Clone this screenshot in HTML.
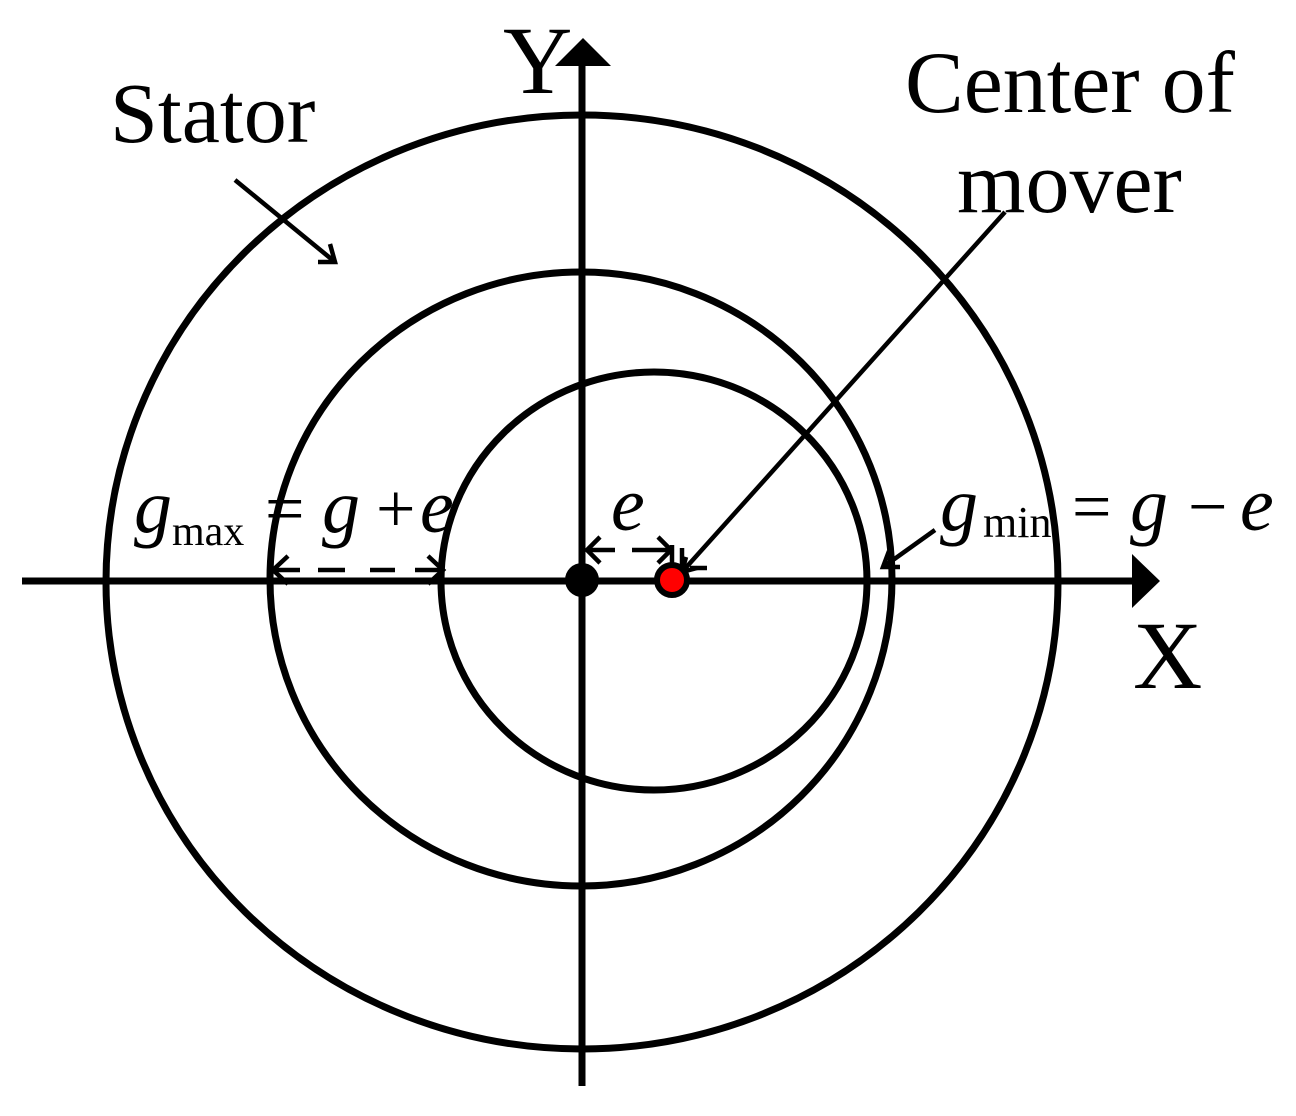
<!DOCTYPE html>
<html><head><meta charset="utf-8"><style>html,body{margin:0;padding:0;background:#fff}svg{display:block}</style></head><body>
<svg width="1296" height="1116" viewBox="0 0 1296 1116" xmlns="http://www.w3.org/2000/svg" font-family="'Liberation Serif', serif">
<g fill="none" stroke="#000" stroke-width="7">
<ellipse cx="582" cy="582" rx="476" ry="467"/>
<ellipse cx="581" cy="579" rx="311" ry="307"/>
<ellipse cx="654" cy="581" rx="213" ry="209"/>
<line x1="582" y1="60" x2="582" y2="1086"/>
<line x1="22" y1="581" x2="1135" y2="581"/>
</g>
<polygon points="583,38 555,66 611,66" fill="#000"/>
<polygon points="1160,581 1132,554 1132,608" fill="#000"/>
<g fill="none" stroke="#000" stroke-width="4.5">
<line x1="235" y1="180" x2="335" y2="262"/>
<polyline points="318,262 335,262 330,244"/>
<line x1="1005" y1="212" x2="682" y2="572"/>
<polyline points="686,557 682,572 697,568"/>
<line x1="935" y1="530" x2="886" y2="565"/>
<polyline points="889,551 883,567 900,567"/>
<line x1="275" y1="570" x2="300" y2="570"/>
<line x1="318" y1="570" x2="345" y2="570"/>
<line x1="370" y1="570" x2="395" y2="570"/>
<line x1="415" y1="570" x2="440" y2="570"/>
<polyline points="288,556 273,570 288,584"/>
<polyline points="428,556 443,570 428,584"/>
<line x1="590" y1="550" x2="615" y2="550"/>
<line x1="632" y1="550" x2="668" y2="550"/>
<polyline points="600,537 587,550 600,563"/>
<polyline points="658,537 671,550 658,563"/>
<line x1="672" y1="545" x2="672" y2="565"/>
<line x1="682" y1="548" x2="682" y2="565"/>
<line x1="690" y1="568" x2="707" y2="568"/>
</g>
<circle cx="582" cy="580" r="17" fill="#000"/>
<circle cx="672" cy="580" r="15" fill="red" stroke="#000" stroke-width="6"/>
<g fill="#000">
<text x="110" y="142" font-size="86">Stator</text>
<text x="503" y="93" font-size="96">Y</text>
<text x="1133" y="688" font-size="96">X</text>
<text x="905" y="112" font-size="88">Center of</text>
<text x="957" y="212" font-size="88">mover</text>
<text x="134" y="532" font-size="76" font-style="italic">g</text>
<text x="172" y="545" font-size="42">max</text>
<text x="265" y="532" font-size="70">=</text>
<text x="322" y="532" font-size="76" font-style="italic">g</text>
<text x="376" y="532" font-size="70">+</text>
<text x="420" y="532" font-size="76" font-style="italic">e</text>
<text x="611" y="530" font-size="76" font-style="italic">e</text>
<text x="940" y="530" font-size="76" font-style="italic">g</text>
<text x="983" y="537" font-size="44">min</text>
<text x="1072" y="530" font-size="70">=</text>
<text x="1130" y="530" font-size="76" font-style="italic">g</text>
<text x="1188" y="530" font-size="70">−</text>
<text x="1240" y="530" font-size="76" font-style="italic">e</text>
</g>
</svg>
</body></html>
